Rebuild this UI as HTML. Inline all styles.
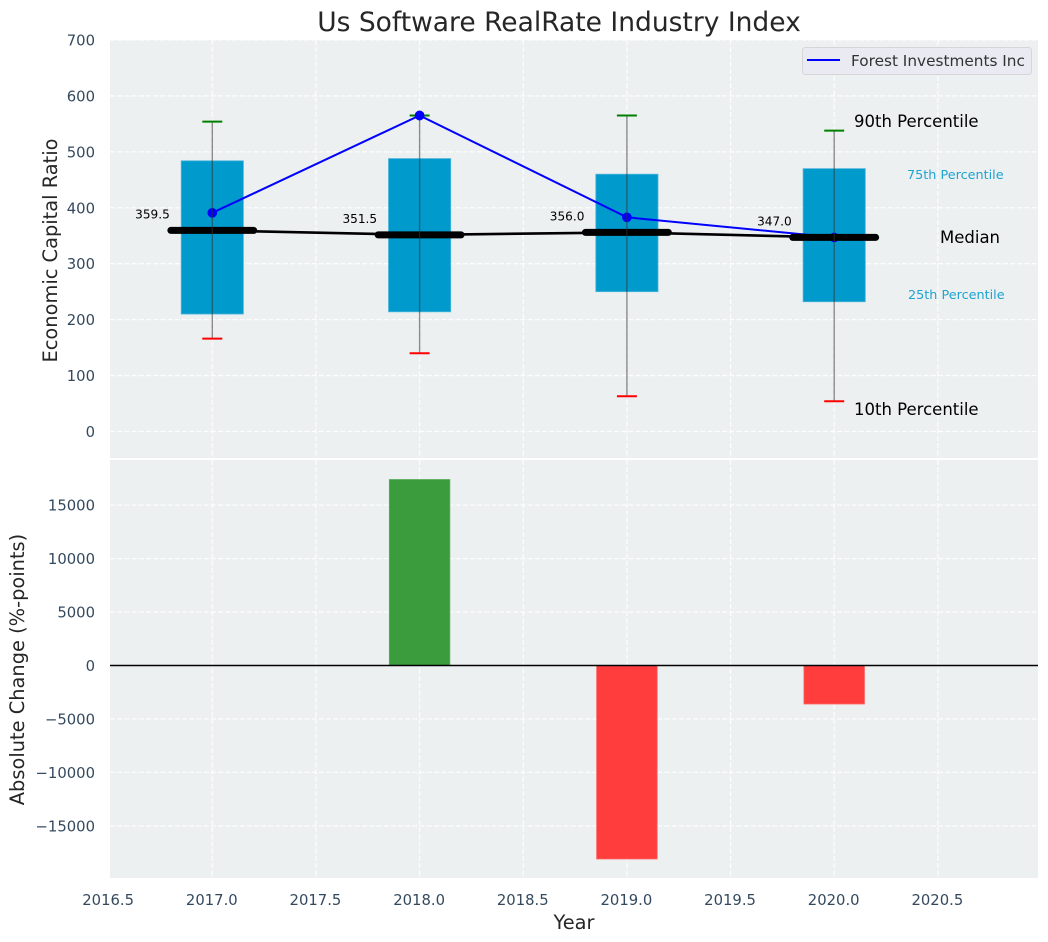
<!DOCTYPE html>
<html lang="en">
<head>
<meta charset="utf-8">
<title>Us Software RealRate Industry Index</title>
<style>
html,body{margin:0;padding:0;background:#fff;}
svg{display:block;font-family:"DejaVu Sans","Liberation Sans",sans-serif;}
</style>
</head>
<body>
<svg id="chart" xmlns="http://www.w3.org/2000/svg" width="1048" height="942" viewBox="0 0 1048 942">
  <rect x="0" y="0" width="1048" height="942" fill="#ffffff"/>
  <rect x="110" y="40" width="928" height="418" fill="#ecf0f1"/>
  <rect x="110" y="460" width="928" height="418" fill="#ecf0f1"/>
  <g id="grid"></g>
  <g id="bars"></g>
  <g id="boxes"></g>
  <g id="company"></g>
  <g id="medians"></g>
  <g id="whiskers"></g>
  <g id="ticks"></g>

  <text x="559" y="31" text-anchor="middle" font-size="26.5" fill="#262626">Us Software RealRate Industry Index</text>
  <text transform="translate(57,250.5) rotate(-90)" text-anchor="middle" font-size="19.4" fill="#262626">Economic Capital Ratio</text>
  <text transform="translate(24,669.5) rotate(-90)" text-anchor="middle" font-size="19.4" fill="#262626">Absolute Change (%-points)</text>
  <text x="574" y="929" text-anchor="middle" font-size="19.4" fill="#262626">Year</text>

  <text x="854" y="127" font-size="16.5" fill="#000">90th Percentile</text>
  <text x="907" y="179" font-size="12.8" fill="#1fa3d1">75th Percentile</text>
  <text x="940" y="243" font-size="16.5" fill="#000">Median</text>
  <text x="908" y="299" font-size="12.8" fill="#1fa3d1">25th Percentile</text>
  <text x="854" y="415" font-size="16.5" fill="#000">10th Percentile</text>

  <g>
    <rect x="802.5" y="47.5" width="229" height="27" rx="3" fill="#eaeaf2" stroke="#d6d6da" stroke-width="1"/>
    <line x1="807" y1="60" x2="840" y2="60" stroke="#0000ff" stroke-width="2"/>
    <text x="851" y="66" font-size="15.3" fill="#333">Forest Investments Inc</text>
  </g>
</svg>
<script>
const years = [2017, 2018, 2019, 2020];
const p90 = [554, 565, 565, 538];
const p75 = [484, 488, 460, 470];
const medianValues = [359.5, 351.5, 356.0, 347.0];
const p25 = [210, 214, 250, 232];
const p10 = [166, 140, 63, 54];
const companyValues = [391, 565, 383, 347];
const changeValues = [0, 17400, -18100, -3600];
const xTicks = [2016.5, 2017.0, 2017.5, 2018.0, 2018.5, 2019.0, 2019.5, 2020.0, 2020.5];
const yTicksTop = [0, 100, 200, 300, 400, 500, 600, 700];
const yTicksBottom = [-15000, -10000, -5000, 0, 5000, 10000, 15000];

const NS = 'http://www.w3.org/2000/svg';
const X = v => 212.3 + (v - 2017) * 207.3;
const YT = v => 431.5 - v * 0.5593;
const YB = v => 665.5 - v * 0.01069;

function mk(parent, tag, attrs, text) {
  const el = document.createElementNS(NS, tag);
  for (const k in attrs) el.setAttribute(k, attrs[k]);
  if (text !== undefined) el.textContent = text;
  document.getElementById(parent).appendChild(el);
  return el;
}
const gridStyle = {stroke:'#ffffff','stroke-width':1.3,'stroke-dasharray':'5 2.2','stroke-opacity':0.85};
const fmtX = v => v.toFixed(1);
const fmtY = v => (v < 0 ? '\u2212' + Math.abs(v) : String(v));

xTicks.forEach(t => {
  let el = mk('grid', 'line', {x1:X(t), x2:X(t), y1:40, y2:458, ...gridStyle});
  
  
  el = mk('grid', 'line', {x1:X(t), x2:X(t), y1:460, y2:878, ...gridStyle});
  
  
  el = mk('ticks', 'text', {x:X(t)-0.5, y:905, 'text-anchor':'middle', 'font-size':14.8, fill:'#34495e'}, fmtX(t));
  
  
});
yTicksTop.forEach(t => {
  let el = mk('grid', 'line', {x1:110, x2:1038, y1:YT(t), y2:YT(t), ...gridStyle});
  
  
  el = mk('ticks', 'text', {x:95, y:YT(t)+5.5, 'text-anchor':'end', 'font-size':14.8, fill:'#34495e'}, fmtY(t));
  
  
});
yTicksBottom.forEach(t => {
  let el = mk('grid', 'line', {x1:110, x2:1038, y1:YB(t), y2:YB(t), ...gridStyle});
  
  
  el = mk('ticks', 'text', {x:95, y:YB(t)+5.5, 'text-anchor':'end', 'font-size':14.8, fill:'#34495e'}, fmtY(t));
  
  
});

/* change bars */
years.forEach((yr, i) => {
  const v = changeValues[i];
  if (v === 0) return;
  const y0 = YB(Math.max(v, 0)), y1 = YB(Math.min(v, 0));
  const el = mk('bars', 'rect', {x:X(yr-0.146), y:y0, width:X(yr+0.146)-X(yr-0.146), height:y1-y0,
    fill: v > 0 ? '#3b9c3e' : '#ff3d3d', stroke: v > 0 ? '#5cad5f' : '#ff6060', 'stroke-width':0.8});
  
  
});
{
  const el = mk('bars', 'line', {x1:110, x2:1038, y1:YB(0), y2:YB(0), stroke:'#000', 'stroke-width':1.4});
  
  
}

/* interquartile boxes */
years.forEach((yr, i) => {
  const el = mk('boxes', 'rect', {x:X(yr-0.15), y:YT(p75[i]), width:X(yr+0.15)-X(yr-0.15), height:YT(p25[i])-YT(p75[i]),
    fill:'#009acd', stroke:'#4db5da', 'stroke-width':0.8});
  
  
});

/* company series */
{
  const el = mk('company', 'polyline', {points:years.map((yr,i)=>X(yr)+','+YT(companyValues[i])).join(' '),
    fill:'none', stroke:'#0000ff', 'stroke-width':2});
  
  
}
years.forEach((yr, i) => {
  const el = mk('company', 'circle', {cx:X(yr), cy:YT(companyValues[i]), r:4.85, fill:'#0000ff'});
  
  
});

/* medians */
{
  const el = mk('medians', 'polyline', {points:years.map((yr,i)=>X(yr)+','+YT(medianValues[i])).join(' '),
    fill:'none', stroke:'#000', 'stroke-width':2.6});
  
  
}
years.forEach((yr, i) => {
  let el = mk('medians', 'line', {x1:X(yr-0.2), x2:X(yr+0.2), y1:YT(medianValues[i]), y2:YT(medianValues[i]),
    stroke:'#000', 'stroke-width':7, 'stroke-linecap':'round'});
  
  
  el = mk('medians', 'text', {x:X(yr)-42.5, y:YT(medianValues[i])-12, 'text-anchor':'end', 'font-size':12.1, fill:'#000'}, medianValues[i].toFixed(1));
  
  
});

/* whiskers and caps */
years.forEach((yr, i) => {
  let el = mk('whiskers', 'line', {x1:X(yr), x2:X(yr), y1:YT(p90[i]), y2:YT(p10[i]), stroke:'#333', 'stroke-width':1.4, 'stroke-opacity':0.55});
  
  
  el = mk('whiskers', 'line', {x1:X(yr)-10, x2:X(yr)+10, y1:YT(p90[i]), y2:YT(p90[i]), stroke:'#008000', 'stroke-width':2});
  
  
  el = mk('whiskers', 'line', {x1:X(yr)-10, x2:X(yr)+10, y1:YT(p10[i]), y2:YT(p10[i]), stroke:'#ff0000', 'stroke-width':2});
  
  
});

/* 2018: the company marker sits over the p90 cap in the reference */
{
  const el = mk('whiskers', 'circle', {cx:X(years[1]), cy:YT(companyValues[1]), r:4.85, fill:'#0000ff'});
  
  
}
</script>
</body>
</html>
